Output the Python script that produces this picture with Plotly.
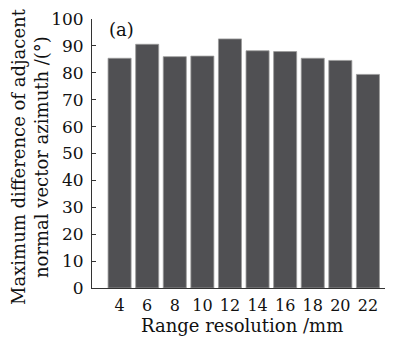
import plotly.graph_objects as go

resolutions = [4, 6, 8, 10, 12, 14, 16, 18, 20, 22]
max_diff = [85.4, 90.6, 86.0, 86.2, 92.6, 88.2, 87.9, 85.4, 84.6, 79.4]
y_ticks = [0, 10, 20, 30, 40, 50, 60, 70, 80, 90, 100]

font = "DejaVu Serif"
fig = go.Figure(go.Bar(
    x=resolutions, y=max_diff, width=1.67,
    marker=dict(color="#505053", line=dict(color="#9a9a9a", width=0.8)),
))
fig.update_layout(
    width=385, height=330, margin=dict(l=84, r=3, t=11, b=50, autoexpand=False),
    plot_bgcolor="white", paper_bgcolor="white", showlegend=False,
    font=dict(family=font, color="#111111"),
)
fig.update_xaxes(range=[2, 23.6], tickvals=resolutions, ticktext=[str(v) for v in resolutions],
                 showline=True, linecolor="#333333", linewidth=1, showgrid=False, zeroline=False,
                 ticks="", tickfont=dict(size=16, family=font), ticklabelstandoff=3)
fig.update_yaxes(range=[0, 100], tickvals=y_ticks, showline=True, linecolor="#333333", linewidth=1,
                 showgrid=False, zeroline=False, ticks="inside", ticklen=4, tickcolor="#333333",
                 tickfont=dict(size=17, family=font), ticklabelstandoff=4)
fig.add_annotation(text="Range resolution /mm", xref="paper", yref="paper", x=0.503, y=-0.141,
                   xanchor="center", yanchor="middle", showarrow=False, font=dict(size=18, family=font))
fig.add_annotation(text="Maximum difference of adjacent<br>normal vector azimuth /(°)", xref="paper", yref="paper",
                   x=-0.208, y=0.487, xanchor="center", yanchor="middle", textangle=-90,
                   showarrow=False, font=dict(size=18, family=font))
fig.add_annotation(text="(a)", xref="paper", yref="paper", x=0.05, y=0.961, xanchor="left", yanchor="middle",
                   showarrow=False, font=dict(size=18, family=font))
fig.write_html("out.html")
